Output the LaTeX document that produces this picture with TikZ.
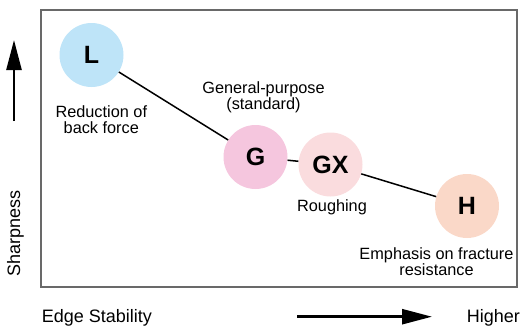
\documentclass[tikz,border=0pt]{standalone}
\usepackage{fontspec}
\setmainfont{Liberation Sans}
\usetikzlibrary{arrows.meta}
\definecolor{cL}{RGB}{190,228,248}
\definecolor{cG}{RGB}{245,198,222}
\definecolor{cGX}{RGB}{250,220,222}
\definecolor{cH}{RGB}{250,216,200}
\definecolor{frameg}{RGB}{105,105,105}
\tikzset{
  grade/.style={circle, minimum size=64pt, inner sep=0pt, draw=none,
    font=\fontsize{25}{25}\selectfont\bfseries},
  lbl/.style={align=center, inner sep=0pt, font=\fontsize{16.3}{16}\selectfont},
  axislbl/.style={inner sep=0pt, font=\fontsize{18}{18}\selectfont},
  conn/.style={line width=1.5pt, black},
  bigarrow/.style={line width=2.5pt, -{Triangle[length=30pt,width=15pt]}}
}
\begin{document}
\begin{tikzpicture}[x=1pt,y=-1pt]
\useasboundingbox (0,0) rectangle (520,327);
\draw[frameg, line width=1.5pt] (41,10) rectangle (517,287);
\node[grade, fill=cL] (L) at (91.5,55) {L};
\node[grade, fill=cG] (G) at (255.5,157) {G};
\node[grade, fill=cGX] (GX) at (330.5,164.5) {GX};
\node[grade, fill=cH] (H) at (467,206) {H};
\draw[conn] (L) -- (G);
\draw[conn] (G) -- (GX);
\draw[conn] (GX) -- (H);
\node[lbl] (tL) at (101.3,120) {Reduction of\\back force};
\node[lbl] (tG) at (263.5,97) {General-purpose\\(standard)};
\node[lbl] (tGX) at (332,207) {Roughing};
\node[lbl] (tH) at (436.5,262) {Emphasis on fracture\\resistance};
\node[axislbl, rotate=90] (ty) at (15.5,233.5) {Sharpness};
\node[axislbl, anchor=base west] (tx) at (41.7,322) {Edge Stability};
\node[axislbl, anchor=base west] (th) at (466.7,322) {Higher};
\coordinate (ya) at (14,121);
\coordinate (yb) at (14,40);
\coordinate (xa) at (297,316.7);
\coordinate (xb) at (432,316.7);
\draw[bigarrow] (ya) -- (yb);
\draw[bigarrow] (xa) -- (xb);
\end{tikzpicture}
\end{document}
